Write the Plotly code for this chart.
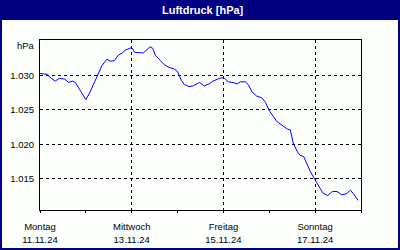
import pandas as pd
import plotly.graph_objects as go

# ---- data ----
start_date = "2024-11-11 00:00"
hours = [0, 2, 4, 5, 8, 10, 13, 15, 17, 18.5, 20.5, 22.5, 24, 26, 28, 30.5, 32.5, 35, 37, 39,
         41, 43, 44.5, 47, 48, 49.5, 51.5, 54, 56, 57.5, 59, 60.5, 63, 65, 67.5, 70, 72, 74,
         75.5, 78, 80, 82, 83.5, 84.5, 86, 88.5, 90.5, 93, 95, 96.5, 98.5, 101, 103, 105,
         107.5, 109, 111, 113.5, 116, 118, 120, 122, 124, 125, 127, 129.5, 131, 132.5, 134.5,
         136, 138, 139.5, 141.5, 144, 146, 148, 150.5, 153, 155.5, 158, 160.5, 162.5, 164.5, 166.5]
pressure = [1030.3, 1030.2, 1030.2, 1029.8, 1029.2, 1029.6, 1029.5, 1029.0, 1029.2, 1029.0,
            1028.1, 1027.2, 1026.5, 1027.5, 1028.8, 1030.2, 1031.5, 1032.4, 1032.1, 1032.2,
            1033.0, 1033.3, 1033.7, 1034.0, 1034.1, 1033.4, 1033.4, 1033.3, 1033.8, 1034.2,
            1034.0, 1032.9, 1032.2, 1031.6, 1031.2, 1031.0, 1030.6, 1029.3, 1028.7, 1028.4,
            1028.5, 1028.8, 1029.0, 1028.8, 1028.5, 1028.8, 1029.2, 1029.5, 1029.7, 1029.6,
            1029.1, 1029.0, 1028.8, 1029.1, 1029.1, 1028.7, 1027.6, 1027.0, 1026.8, 1026.1,
            1024.9, 1024.1, 1023.3, 1023.1, 1022.7, 1022.2, 1022.1, 1020.2, 1019.0, 1018.4,
            1018.2, 1017.3, 1016.0, 1014.8, 1013.8, 1012.9, 1012.5, 1013.1, 1013.1, 1012.6,
            1012.8, 1013.3, 1012.6, 1011.8]
x_tick_dates = ["2024-11-11", "2024-11-13", "2024-11-15", "2024-11-17"]
x_tick_days = ["Montag", "Mittwoch", "Freitag", "Sonntag"]
x_tick_labels = ["11.11.24", "13.11.24", "15.11.24", "17.11.24"]
y_tick_vals = [1015, 1020, 1025, 1030]
y_tick_text = ["1.015", "1.020", "1.025", "1.030"]
title_text = "Luftdruck [hPa]"
unit_text = "hPa"

times = pd.Timestamp(start_date) + pd.to_timedelta(hours, unit="h")

W, H = 400, 250
L, R, T, B = 40, 39, 40, 40
PW, PH = W - L - R, H - T - B


def px(x):
    return (x - L) / PW


def py(y):
    return (H - B - y) / PH


NAVY = "#000080"
BG = "#FCFFFC"
FONT = "Liberation Sans"

fig = go.Figure()
fig.add_trace(go.Scatter(x=times, y=pressure, mode="lines",
                         line=dict(color="#0000FF", width=1), hoverinfo="skip"))

fig.update_layout(
    width=W, height=H,
    margin=dict(l=L, r=R, t=T, b=B, pad=0, autoexpand=False),
    paper_bgcolor=BG, plot_bgcolor=BG,
    showlegend=False,
    font=dict(family=FONT, size=9, color="#000000"),
)

fig.update_xaxes(
    type="date",
    range=[pd.Timestamp("2024-11-11"), pd.Timestamp("2024-11-18")],
    tickmode="array",
    tickvals=x_tick_dates,
    ticktext=[f"{d}<br>{l}" for d, l in zip(x_tick_days, x_tick_labels)],
    ticks="outside", ticklen=2, tickcolor="#000000", tickwidth=1,
    showline=True, linecolor="#000000", linewidth=1, mirror=True,
    showgrid=True, gridcolor="#000000", gridwidth=1, griddash="3px,3px",
    zeroline=False,
    ticklabelstandoff=6,
    ticklabeloverflow="allow",
    minor=dict(tickmode="linear", tick0="2024-11-11", dtick=86400000,
               ticks="outside", ticklen=2, tickcolor="#000000", showgrid=False),
    tickfont=dict(family=FONT, size=9.5, color="#000000"),
)

fig.update_yaxes(
    range=[1010.4, 1035.2],
    tickmode="array",
    tickvals=y_tick_vals,
    ticktext=y_tick_text,
    ticks="",
    showline=True, linecolor="#000000", linewidth=1, mirror=True,
    showgrid=True, gridcolor="#000000", gridwidth=1, griddash="3px,3px",
    zeroline=False,
    ticklabelstandoff=3,
    tickfont=dict(family=FONT, size=9.5, color="#000000"),
)

# Title bar and frame
fig.add_shape(type="rect", xref="paper", yref="paper",
              x0=px(0), x1=px(W), y0=py(0), y1=py(20),
              fillcolor=NAVY, line=dict(width=0), layer="below")
fig.add_shape(type="rect", xref="paper", yref="paper",
              x0=px(1), x1=px(W - 1), y0=py(1), y1=py(H - 1),
              fillcolor="rgba(0,0,0,0)", line=dict(color=NAVY, width=2))

fig.add_annotation(text=f"<b>{title_text}</b>", xref="paper", yref="paper",
                   x=px(W / 2 + 3), y=py(10), showarrow=False,
                   font=dict(family=FONT, size=11, color="#FFFFFF"),
                   xanchor="center", yanchor="middle")
fig.add_annotation(text=unit_text, xref="paper", yref="paper",
                   x=px(37), y=py(45), showarrow=False,
                   font=dict(family=FONT, size=9.5, color="#000000"),
                   xanchor="right", yanchor="middle")

fig.write_html("out.html")
